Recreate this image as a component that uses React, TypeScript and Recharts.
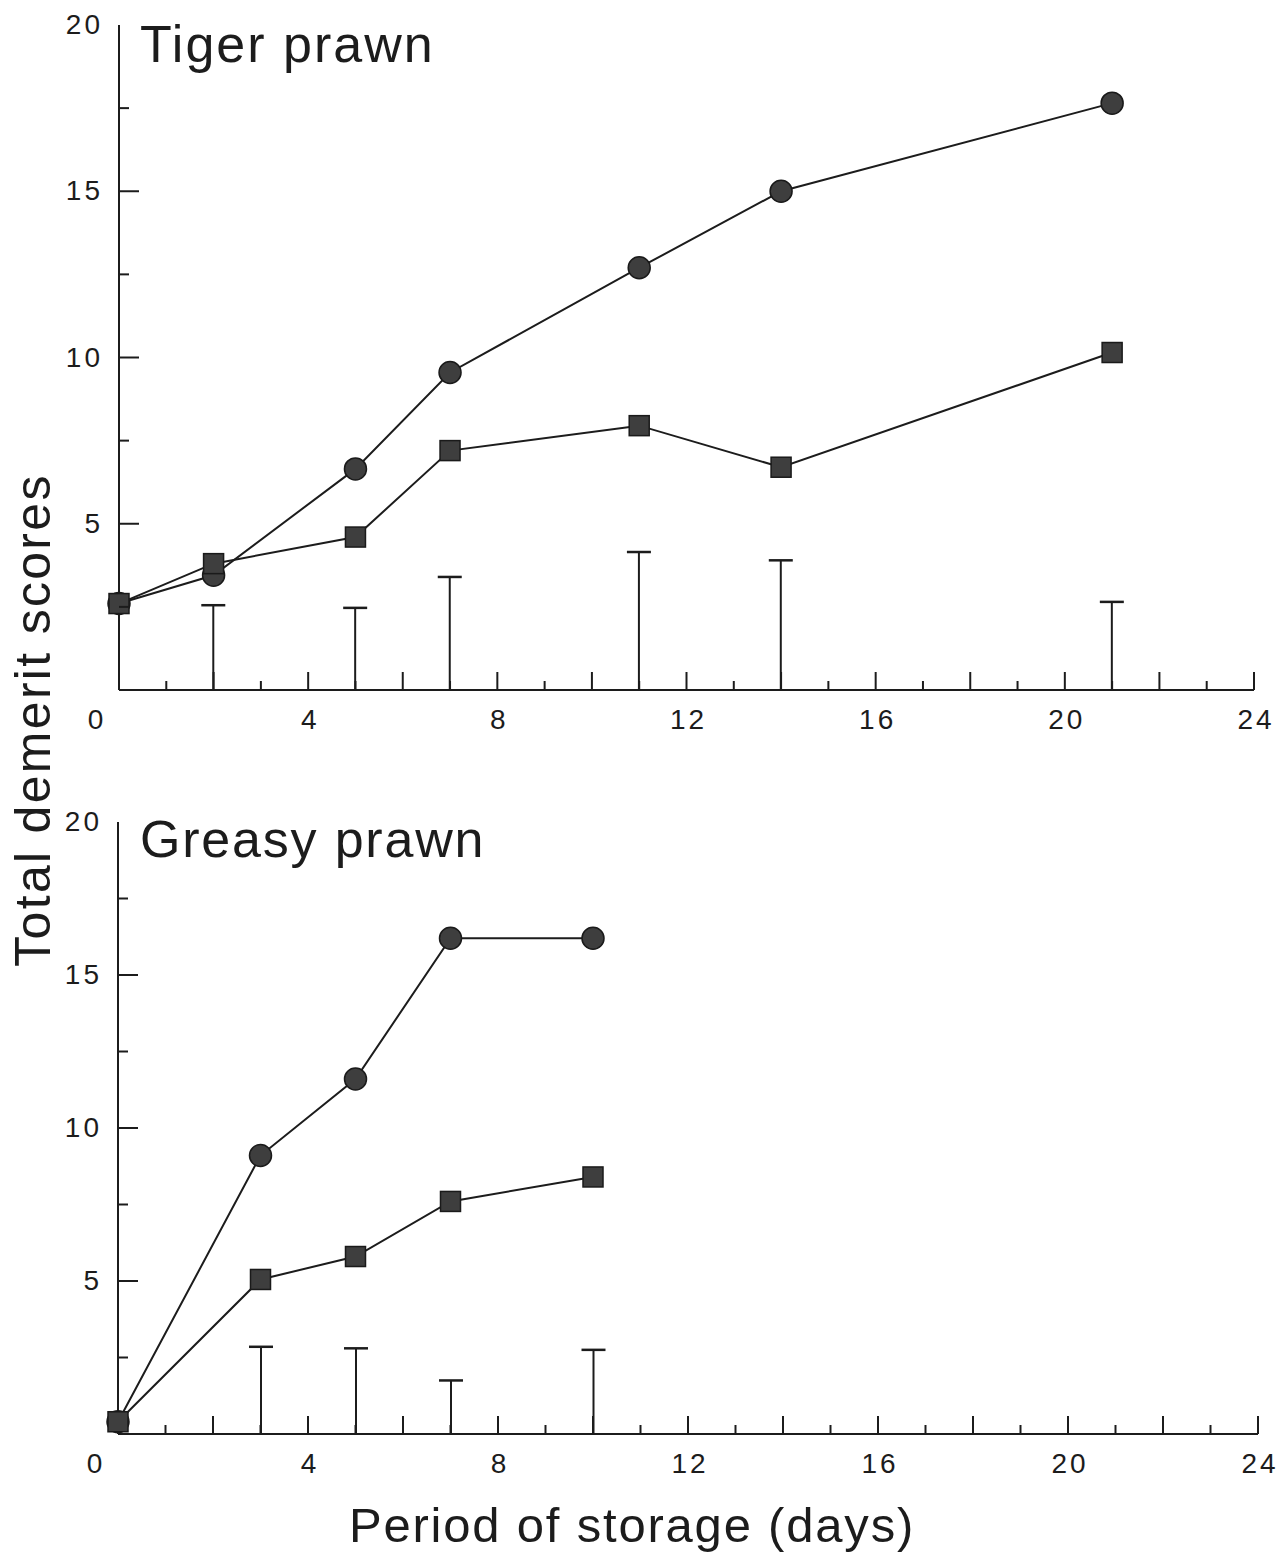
import React from 'react';
import { ComposedChart, Line, Bar, XAxis, YAxis } from 'recharts';

// ---- Data ----
const tigerDays = [0, 2, 5, 7, 11, 14, 21];
const tigerCircle = [2.6, 3.45, 6.65, 9.55, 12.7, 15.0, 17.65];
const tigerSquare = [2.6, 3.8, 4.6, 7.2, 7.95, 6.7, 10.15];
const tigerErr: (number | null)[] = [null, 2.55, 2.47, 3.4, 4.15, 3.9, 2.65];

const greasyDays = [0, 3, 5, 7, 10];
const greasyCircle = [0.4, 9.1, 11.6, 16.2, 16.2];
const greasySquare = [0.4, 5.05, 5.8, 7.6, 8.4];
const greasyErr: (number | null)[] = [null, 2.85, 2.8, 1.75, 2.75];

const xTicks = [0, 1, 2, 3, 4, 5, 6, 7, 8, 9, 10, 11, 12, 13, 14, 15, 16, 17, 18, 19, 20, 21, 22, 23, 24];
const xLabelTicks = [0, 4, 8, 12, 16, 20, 24];
const yTicks = [0, 2.5, 5, 7.5, 10, 12.5, 15, 17.5, 20];
const yLabelTicks = [5, 10, 15, 20];

const titles = ['Tiger prawn', 'Greasy prawn'];
const yLabel = 'Total demerit scores';
const xLabel = 'Period of storage (days)';

const FONT = '"Liberation Sans", Arial, Helvetica, sans-serif';
const INK = '#1c1c1c';

const buildRows = (days: number[], c: number[], s: number[], e: (number | null)[]) =>
  days.map((d, i) => ({ day: d, circle: c[i], square: s[i], err: e[i] }));

const tigerRows = buildRows(tigerDays, tigerCircle, tigerSquare, tigerErr);
const greasyRows = buildRows(greasyDays, greasyCircle, greasySquare, greasyErr);

const YTick = (props: any) => {
  const { x, y, payload } = props;
  const v = payload.value;
  const major = v % 5 === 0;
  if (v === 0) return <g />;
  return (
    <g>
      {v !== 20 && <line x1={x} y1={y} x2={x + (major ? 20 : 10)} y2={y} stroke={INK} strokeWidth={2} />}
      {yLabelTicks.includes(v) && (
        <text x={x - 16} y={y} dy={9} textAnchor="end" fontFamily={FONT} fontSize={28}
          letterSpacing={3} fill={INK}>{v}</text>
      )}
    </g>
  );
};

const XTick = (props: any) => {
  const { x, y, payload } = props;
  const v = payload.value;
  const len = v % 2 === 0 ? 18 : 9;
  return (
    <g>
      {v !== 0 && <line x1={x} y1={y} x2={x} y2={y - len} stroke={INK} strokeWidth={2} />}
      {xLabelTicks.includes(v) && (
        <text x={v === 0 ? x - 22 : x + 2} y={y} dy={39} textAnchor="middle" fontFamily={FONT}
          fontSize={28} letterSpacing={3} fill={INK}>{v}</text>
      )}
    </g>
  );
};

const CircleDot = (props: any) => {
  const { cx, cy, index } = props;
  if (cx == null || cy == null) return <g key={index} />;
  return <circle key={index} cx={cx} cy={cy} r={11} fill="#3e3e3e" stroke="#1a1a1a" strokeWidth={1.5} />;
};

const SquareDot = (props: any) => {
  const { cx, cy, index } = props;
  if (cx == null || cy == null) return <g key={index} />;
  return <rect key={index} x={cx - 10} y={cy - 10} width={20} height={20} fill="#3e3e3e" stroke="#1a1a1a" strokeWidth={1.5} />;
};

const ErrShape = (props: any) => {
  const { x, y, width, height, payload } = props;
  if (!payload || payload.err == null) return <g />;
  const cx = x + width / 2;
  return (
    <g>
      <line x1={cx} y1={y} x2={cx} y2={y + height} stroke={INK} strokeWidth={2} />
      <line x1={x} y1={y} x2={x + width} y2={y} stroke={INK} strokeWidth={2.5} />
    </g>
  );
};

type PanelProps = {
  rows: any[];
  top: number;
  height: number;
  margin: { top: number; right: number; bottom: number; left: number };
  yWidth: number;
};

const Panel = ({ rows, top, height, margin, yWidth }: PanelProps) => (
  <div style={{ position: 'absolute', left: 0, top, width: 1281, height }}>
    <ComposedChart width={1281} height={height} data={rows} margin={margin}>
      <XAxis dataKey="day" type="number" domain={[0, 24]} ticks={xTicks} interval={0}
        tickSize={0} tickMargin={0} tickLine={false} height={50}
        axisLine={{ stroke: INK, strokeWidth: 2 }} tick={<XTick />} />
      <YAxis type="number" domain={[0, 20]} ticks={yTicks} interval={0}
        tickSize={0} tickMargin={0} tickLine={false} width={yWidth}
        axisLine={{ stroke: INK, strokeWidth: 2 }} tick={<YTick />} />
      <Bar dataKey="err" barSize={24} isAnimationActive={false} shape={<ErrShape />} />
      <Line dataKey="circle" type="linear" stroke={INK} strokeWidth={2} dot={<CircleDot />}
        activeDot={false} isAnimationActive={false} />
      <Line dataKey="square" type="linear" stroke={INK} strokeWidth={2} dot={<SquareDot />}
        activeDot={false} isAnimationActive={false} />
    </ComposedChart>
  </div>
);

export default function App() {
  return (
    <div style={{ position: 'absolute', left: 0, top: 0, width: 1281, height: 1557, background: '#fff', overflow: 'hidden' }}>
      <Panel rows={tigerRows} top={0} height={760}
        margin={{ top: 25, right: 27, bottom: 20, left: 0 }} yWidth={119} />
      <Panel rows={greasyRows} top={780} height={720}
        margin={{ top: 42, right: 23, bottom: 16, left: 0 }} yWidth={118} />
      <svg width={1281} height={1557} style={{ position: 'absolute', left: 0, top: 0, pointerEvents: 'none' }}>
        <text x={140} y={62} fontFamily={FONT} fontSize={52} letterSpacing={2} fill={INK}>{titles[0]}</text>
        <text x={140} y={857} fontFamily={FONT} fontSize={52} letterSpacing={1.8} fill={INK}>{titles[1]}</text>
        <text x={0} y={0} transform="translate(50,720) rotate(-90)" textAnchor="middle" fontFamily={FONT}
          fontSize={50} letterSpacing={2.3} fill={INK}>{yLabel}</text>
        <text x={632} y={1542} textAnchor="middle" fontFamily={FONT} fontSize={49} letterSpacing={1.8}
          fill={INK}>{xLabel}</text>
      </svg>
    </div>
  );
}
